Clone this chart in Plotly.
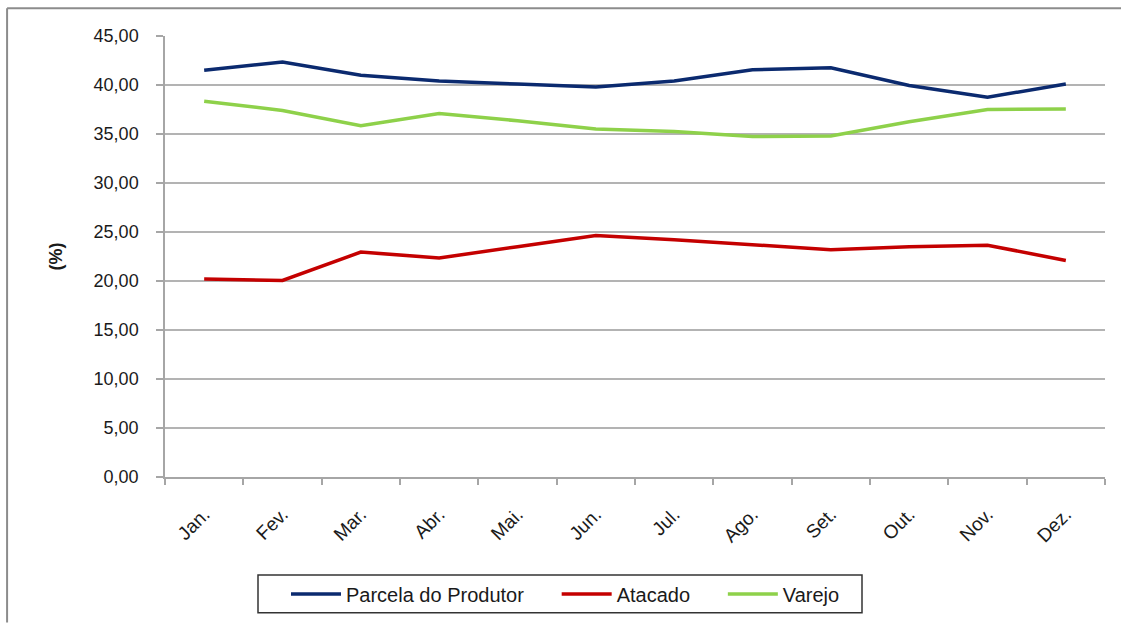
import plotly.graph_objects as go

# Monthly share of the final price (%)
meses = ["Jan.", "Fev.", "Mar.", "Abr.", "Mai.", "Jun.",
         "Jul.", "Ago.", "Set.", "Out.", "Nov.", "Dez."]
produtor = [41.5, 42.35, 41.0, 40.4, 40.1, 39.8, 40.4, 41.55, 41.75, 39.95, 38.75, 40.1]
atacado = [20.2, 20.05, 22.95, 22.35, 23.5, 24.65, 24.2, 23.7, 23.2, 23.5, 23.65, 22.1]
varejo = [38.35, 37.4, 35.85, 37.1, 36.35, 35.5, 35.25, 34.75, 34.8, 36.25, 37.5, 37.55]

y_ticks = [0, 5, 10, 15, 20, 25, 30, 35, 40, 45]
y_labels = [f"{v:.2f}".replace(".", ",") for v in y_ticks]

FONT = "Liberation Sans, Arial, sans-serif"
PAD = "\u00a0" * 5  # spacing between legend entries

fig = go.Figure()
series = [
    ("Parcela do Produtor", produtor, "#0b2a6f"),
    ("Atacado", atacado, "#c40000"),
    ("Varejo", varejo, "#8ed14a"),
]
for name, vals, color in series:
    fig.add_trace(go.Scatter(
        x=meses, y=vals, name=name + PAD, mode="lines",
        line=dict(color=color, width=3.5),
    ))

# Outer chart frame (top and left edges)
frame = dict(type="line", xref="paper", yref="paper",
             line=dict(color="#8c8c8c", width=2), layer="below")
fig.add_shape(x0=-0.168, x1=1.02, y0=1.063, y1=1.063, **frame)
fig.add_shape(x0=-0.168, x1=-0.168, y0=1.063, y1=-0.33, **frame)

# Legend box
fig.add_shape(type="rect", xref="paper", yref="paper",
              x0=(258 - 165) / 940, x1=(862 - 165) / 940,
              y0=(481 - 618) / 445, y1=(481 - 580) / 445,
              line=dict(color="#333333", width=1.5), fillcolor="white", layer="below")

fig.update_layout(
    width=1121, height=625,
    margin=dict(l=165, r=16, t=36, b=144),
    paper_bgcolor="white", plot_bgcolor="white",
    font=dict(family=FONT, color="#1a1a1a", size=18),
    showlegend=True,
    legend=dict(
        orientation="h", x=(286 - 165) / 940, xanchor="left",
        y=(481 - 599) / 445, yanchor="middle",
        borderwidth=0, bgcolor="rgba(0,0,0,0)", itemwidth=50,
        font=dict(size=20, family=FONT, color="#1a1a1a"),
    ),
)

fig.update_xaxes(
    type="category", tickson="boundaries", range=[-0.5, 11.5],
    showgrid=False, showline=True, linecolor="#a6a6a6", linewidth=1.5,
    ticks="outside", ticklen=6, tickcolor="#a6a6a6", tickwidth=1.5,
    tickangle=-45, tickfont=dict(size=19, family=FONT, color="#1a1a1a"),
    ticklabelstandoff=17,
)
fig.update_yaxes(
    range=[0, 45], tickvals=y_ticks, ticktext=y_labels,
    showgrid=True, gridcolor="#b3b3b3", gridwidth=1.5,
    showline=True, linecolor="#a6a6a6", linewidth=1.5,
    ticks="outside", ticklen=7, tickcolor="#a6a6a6", tickwidth=1.5,
    tickfont=dict(size=18, family=FONT, color="#1a1a1a"),
    ticklabelstandoff=14, zeroline=False,
    title=dict(text="<b>(%)</b>", font=dict(size=18, family=FONT, color="#1a1a1a"),
               standoff=26),
)

fig.write_html("out.html")
